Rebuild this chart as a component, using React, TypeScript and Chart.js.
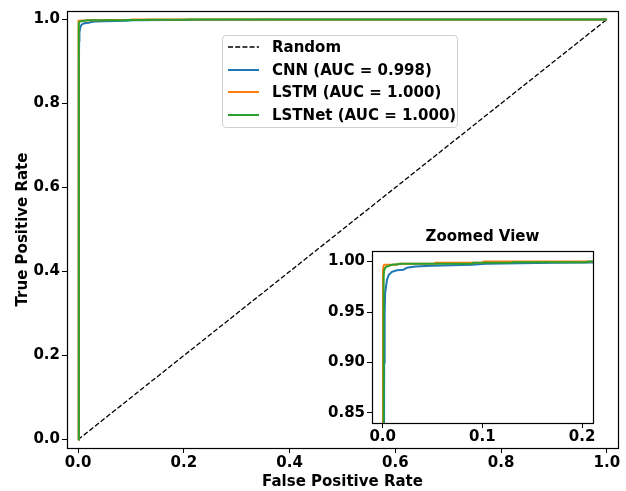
import React, { useEffect, useRef } from "react";
import { Chart, registerables } from "chart.js";

Chart.register(...registerables);

const FONT = "'DejaVu Sans', 'Liberation Sans', sans-serif";

// ROC data
const randomFpr = [0, 1];
const randomTpr = [0, 1];

const cnnFpr = [0, 0.0015, 0.002, 0.0025, 0.0043, 0.006, 0.0093, 0.0143, 0.021, 0.0244, 0.0327, 0.0494, 0.0896, 0.104, 0.171, 0.25, 0.4, 1];
const cnnTpr = [0, 0.9, 0.95, 0.969, 0.9818, 0.9866, 0.9898, 0.9914, 0.992, 0.994, 0.9952, 0.9959, 0.9968, 0.9978, 0.9988, 0.9994, 1.0, 1];

const lstmFpr = [0, 0.0003, 0.0008, 0.0015, 0.0143, 0.016, 0.052, 0.053, 0.1, 0.101, 1];
const lstmTpr = [0, 0.99, 0.9955, 0.9968, 0.9968, 0.9978, 0.9978, 0.9988, 0.9988, 1.0, 1];

const lstnetFpr = [0, 0.001, 0.0015, 0.0026, 0.0043, 0.0093, 0.0194, 0.09, 0.091, 0.129, 0.13, 0.205, 0.206, 1];
const lstnetTpr = [0, 0.985, 0.9914, 0.994, 0.9952, 0.9968, 0.9978, 0.9978, 0.9988, 0.9988, 0.9994, 0.9994, 1.0, 1];

const seriesLabels = ["Random", "CNN (AUC = 0.998)", "LSTM (AUC = 1.000)", "LSTNet (AUC = 1.000)"];
const seriesColors = ["#000000", "#1f77b4", "#ff7f0e", "#2ca02c"];

const mainTicks = [0, 0.2, 0.4, 0.6, 0.8, 1.0];
const insetXTicks = [0, 0.1, 0.2];
const insetYTicks = [0.85, 0.9, 0.95, 1.0];

const pts = (xs: number[], ys: number[]) => xs.map((x, i) => ({ x, y: ys[i] }));

function makeDatasets(width: number) {
  const data = [
    pts(randomFpr, randomTpr),
    pts(cnnFpr, cnnTpr),
    pts(lstmFpr, lstmTpr),
    pts(lstnetFpr, lstnetTpr),
  ];
  return data.map((d, i) => ({
    label: seriesLabels[i],
    data: d,
    borderColor: seriesColors[i],
    backgroundColor: seriesColors[i],
    borderWidth: i === 0 ? 1.3 : width,
    borderDash: i === 0 ? [5, 2.2] : [],
    pointRadius: 0,
    fill: false,
    tension: 0,
    order: 3 - i,
  }));
}

const framePlugin = {
  id: "frame",
  beforeDraw(chart: any, _a: any, opts: any) {
    if (opts && opts.fill) {
      const { ctx, chartArea: c } = chart;
      ctx.save();
      ctx.fillStyle = "#ffffff";
      ctx.fillRect(c.left, c.top, c.right - c.left, c.bottom - c.top);
      ctx.restore();
    }
  },
  afterDraw(chart: any) {
    const { ctx, chartArea: c } = chart;
    ctx.save();
    ctx.strokeStyle = "#000000";
    ctx.lineWidth = 1.2;
    ctx.strokeRect(Math.round(c.left) + 0.5, Math.round(c.top) + 0.5, Math.round(c.right - c.left), Math.round(c.bottom - c.top));
    ctx.restore();
  },
};

function axis(
  min: number,
  max: number,
  ticks: number[],
  decimals: number,
  horizontal: boolean,
  size: number,
  tickPad: number,
  title?: string,
  titlePadTop?: number
) {
  return {
    type: "linear",
    min,
    max,
    afterBuildTicks: (s: any) => {
      s.ticks = ticks.map((v) => ({ value: v }));
    },
    afterFit: (s: any) => {
      if (horizontal) s.height = size;
      else s.width = size;
    },
    grid: {
      display: true,
      drawOnChartArea: false,
      drawTicks: true,
      tickLength: 5,
      tickColor: "#000000",
      tickWidth: 1,
      color: "#000000",
    },
    border: { display: false },
    ticks: {
      autoSkip: false,
      maxRotation: 0,
      minRotation: 0,
      padding: tickPad,
      color: "#000000",
      font: { family: FONT, size: 15, weight: "bold" },
      callback: (v: any) => Number(v).toFixed(decimals),
    },
    title: title
      ? {
          display: true,
          text: title,
          color: "#000000",
          font: { family: FONT, size: 15, weight: "bold", lineHeight: 1.2 },
          padding: { top: titlePadTop ?? 0, bottom: 0 },
        }
      : { display: false },
  };
}

export default function App() {
  const mainRef = useRef<HTMLCanvasElement | null>(null);
  const insetRef = useRef<HTMLCanvasElement | null>(null);

  useEffect(() => {
    const main = new Chart(mainRef.current as HTMLCanvasElement, {
      type: "line",
      data: { datasets: makeDatasets(2) as any },
      options: {
        animation: false,
        responsive: false,
        maintainAspectRatio: false,
        devicePixelRatio: 1,
        layout: { padding: { left: 0, top: 7, right: 8, bottom: 0 } },
        plugins: { legend: { display: false }, tooltip: { enabled: false }, frame: { fill: false } } as any,
        scales: {
          x: axis(-0.021, 1.021, mainTicks, 1, true, 43, 1, "False Positive Rate", 5) as any,
          y: axis(-0.02, 1.02, mainTicks, 1, false, 67, 2, "True Positive Rate", 14) as any,
        },
      },
      plugins: [framePlugin],
    });

    const inset = new Chart(insetRef.current as HTMLCanvasElement, {
      type: "line",
      data: { datasets: makeDatasets(2) as any },
      options: {
        animation: false,
        responsive: false,
        maintainAspectRatio: false,
        devicePixelRatio: 1,
        layout: { padding: { left: 0, top: 5, right: 17, bottom: 0 } },
        plugins: { legend: { display: false }, tooltip: { enabled: false }, frame: { fill: true } } as any,
        scales: {
          x: axis(-0.0107, 0.211, insetXTicks, 1, true, 32, 0) as any,
          y: axis(0.84, 1.0105, insetYTicks, 2, false, 52, 2) as any,
        },
      },
      plugins: [framePlugin],
    });

    return () => {
      main.destroy();
      inset.destroy();
    };
  }, []);

  const textStyle: React.CSSProperties = {
    fontFamily: FONT,
    fontWeight: "bold",
    fontSize: 15,
    color: "#000",
    whiteSpace: "nowrap",
  };

  return (
    <div style={{ position: "fixed", left: 0, top: 0, width: 626, height: 491, background: "#fff", overflow: "hidden" }}>
      <canvas ref={mainRef} width={626} height={491} style={{ position: "absolute", left: 0, top: 0, width: 626, height: 491 }} />
      <div
        style={{
          position: "absolute",
          left: 222,
          top: 35,
          width: 236,
          height: 93,
          boxSizing: "border-box",
          border: "1px solid #d0d0d0",
          borderRadius: 4,
          background: "rgba(255,255,255,0.8)",
        }}
      >
        {seriesLabels.map((lab, i) => (
          <div key={lab} style={{ position: "absolute", left: 0, top: i * 22.6, height: 22.6, width: "100%" }}>
            <svg width={40} height={22} style={{ position: "absolute", left: 0, top: 0 }}>
              <line
                x1={5}
                y1={11}
                x2={36}
                y2={11}
                stroke={seriesColors[i]}
                strokeWidth={i === 0 ? 1.3 : 2}
                strokeDasharray={i === 0 ? "5 2.2" : undefined}
              />
            </svg>
            <span style={{ ...textStyle, position: "absolute", left: 49, top: 2, lineHeight: "18px" }}>{lab}</span>
          </div>
        ))}
      </div>
      <canvas ref={insetRef} width={290} height={215} style={{ position: "absolute", left: 320, top: 240, width: 290, height: 215 }} />
      <div style={{ ...textStyle, position: "absolute", left: 372, width: 221, top: 227, lineHeight: "18px", textAlign: "center" }}>
        Zoomed View
      </div>
    </div>
  );
}
